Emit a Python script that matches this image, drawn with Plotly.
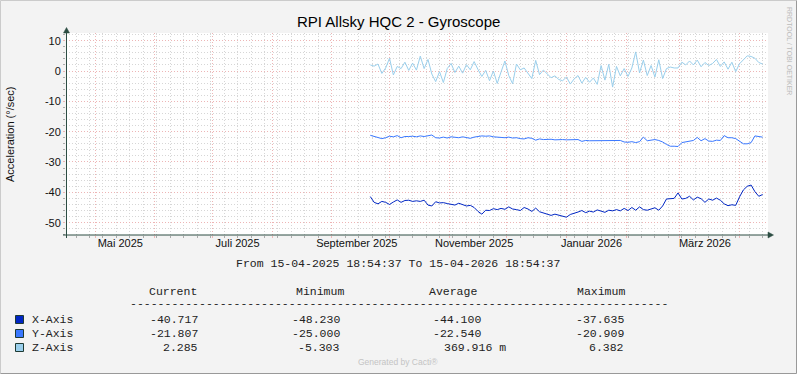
import pandas as pd
import plotly.graph_objects as go

# ---------------- data ----------------
title = "RPI Allsky HQC 2 - Gyroscope"
y_title = "Acceleration (°/sec)"
range_start = "2025-04-15 18:54:37"
range_end = "2026-04-15 18:54:37"
dates = pd.date_range(start="2025-09-21", periods=103, freq="2D")

x_axis = [-41.4, -43.3, -43.8, -43.0, -43.3, -44.0, -43.2, -42.5, -43.3, -42.7,
          -42.6, -43.0, -42.8, -43.0, -42.6, -44.2, -44.5, -43.1, -43.5, -43.4,
          -43.7, -43.9, -44.2, -43.6, -44.0, -44.5, -44.3, -45.0, -46.3, -47.2,
          -45.9, -46.0, -45.4, -45.7, -45.3, -45.6, -44.8, -45.5, -45.7, -46.0,
          -45.0, -45.5, -46.3, -45.2, -46.4, -46.8, -47.0, -47.6, -47.2, -47.5,
          -47.8, -48.2, -47.3, -47.0, -46.5, -46.0, -46.7, -46.2, -46.5, -45.8,
          -46.3, -46.6, -45.9, -46.1, -45.7, -46.1, -45.3, -46.0, -45.0, -45.9,
          -44.8, -45.7, -45.9, -45.6, -45.1, -45.9, -44.5, -42.2, -42.2, -42.0,
          -40.2, -42.2, -42.0, -41.3, -42.5, -41.6, -42.1, -43.3, -42.2, -42.6,
          -41.9, -42.6, -43.8, -44.4, -44.1, -44.3, -41.5, -39.2, -38.0, -37.6,
          -39.8, -41.3, -40.717]

y_axis = [-21.2, -21.5, -21.9, -22.3, -22.0, -21.5, -21.7, -21.3, -22.0, -21.6,
          -21.6, -21.5, -21.7, -21.4, -21.6, -21.4, -21.1, -22.0, -22.1, -21.8,
          -22.1, -21.7, -21.9, -22.0, -21.7, -22.0, -22.2, -21.8, -21.6, -21.4,
          -21.5, -21.4, -21.7, -21.7, -21.9, -22.0, -21.8, -22.1, -22.0, -22.3,
          -22.4, -22.0, -22.2, -22.8, -22.4, -22.6, -22.5, -22.5, -22.7, -22.6,
          -22.6, -22.7, -22.6, -22.5, -22.6, -23.2, -22.9, -23.0, -23.0, -23.0,
          -22.9, -23.0, -23.0, -22.9, -23.1, -22.9, -23.4, -23.5, -23.3, -23.6,
          -23.3, -21.8, -23.0, -22.7, -22.6, -22.9, -23.4, -24.2, -24.8, -24.8,
          -24.9, -23.6, -23.3, -23.0, -22.9, -21.9, -23.0, -22.3, -23.1, -23.2,
          -22.8, -22.9, -21.3, -22.0, -22.0, -22.3, -23.2, -24.0, -24.0, -23.6,
          -21.4, -21.6, -21.807]

z_axis = [2.0, 1.6, 2.3, -0.8, 1.0, 4.2, -1.3, 1.5, 0.8, 2.9,
          0.2, 2.6, 0.3, 4.9, 0.8, 3.8, -1.0, -3.5, -0.2, -3.8,
          0.8, 2.5, -0.5, 1.6, -0.7, 2.1, 0.4, 3.1, 0.5, -1.8,
          0.2, -3.2, 0.0, -4.1, -0.3, 3.3, -1.5, -4.2, 2.3, 0.4,
          1.0, -0.6, -2.5, 3.5, -1.2, 0.3, -1.0, -2.2, -1.6, -2.8,
          -3.2, -2.0, -4.3, -2.6, -1.5, -4.0, -2.1, -3.7, -2.3, -4.4,
          1.8, -3.0, 2.2, -5.3, 1.5, -1.6, 0.8, -1.8, 1.0, 6.3,
          -0.6, 3.6, -1.5, 1.8, -2.0, 3.7, -2.5, 0.8, 1.3, 1.0,
          1.0, 2.9, 2.0, 3.3, 2.0, 3.6, 1.4, 2.8, 1.8, 2.5,
          3.8, 1.5, 3.0, 0.6, 2.9, -0.2, 2.4, 3.8, 5.0, 4.8,
          4.2, 2.8, 2.285]

series_names = ["X-Axis", "Y-Axis", "Z-Axis"]
series_colors = ["#0026C4", "#3A78FF", "#9ACFEC"]
stat_current = ["-40.717", "-21.807", "2.285"]
stat_minimum = ["-48.230", "-25.000", "-5.303"]
stat_average = ["-44.100", "-22.540", "369.916 m"]
stat_maximum = ["-37.635", "-20.909", "6.382"]
stat_headers = ["Current", "Minimum", "Average", "Maximum"]

label_dates = ["2025-05-14", "2025-07-14", "2025-09-14", "2025-11-14", "2026-01-14", "2026-03-14"]
label_texts = ["Mai 2025", "Juli 2025", "September 2025", "November 2025", "Januar 2026", "März 2026"]
y_ticks = [10, 0, -10, -20, -30, -40, -50]
y_range = [-54.07, 12.53]

# ---------------- layout helpers ----------------
W, H = 797, 374
L, R, T, B = 66, 29, 33, 139
PW, PH = W - L - R, H - T - B
def px(x):
    return (x - L) / PW
def py(y):
    return (H - B - y) / PH

AXC = "#2C4D43"
SANS = "Liberation Sans, Arial, sans-serif"
MONO = "Liberation Mono, Courier New, monospace"
RED = "#EDB5B5"
GRAY = "#D6D6D6"

fig = go.Figure()
for name, vals, col in zip(series_names, [x_axis, y_axis, z_axis], series_colors):
    fig.add_trace(go.Scatter(x=dates, y=vals, mode="lines", name=name,
                             line=dict(color=col, width=1), showlegend=False,
                             xaxis="x", yaxis="y"))
# invisible trace for label axis
fig.add_trace(go.Scatter(x=[range_start, range_end], y=[None, None], mode="lines",
                         xaxis="x2", yaxis="y", showlegend=False, hoverinfo="skip"))

fig.update_layout(
    width=W, height=H,
    margin=dict(l=L, r=R, t=T, b=B),
    paper_bgcolor="#F3F3F3", plot_bgcolor="#FFFFFF",
    xaxis=dict(range=[range_start, range_end], type="date",
               tick0="2025-05-01", dtick="M1", showticklabels=False,
               showgrid=True, gridcolor=RED, griddash="1px,2px", gridwidth=1,
               ticks="outside", ticklen=2, tickcolor=RED,
               minor=dict(tick0="2025-04-21", dtick=7 * 86400000, showgrid=True,
                          gridcolor=GRAY, griddash="1px,2px",
                          ticks="outside", ticklen=2, tickcolor="#AAAAAA"),
               showline=False, zeroline=False, fixedrange=True),
    xaxis2=dict(range=[range_start, range_end], type="date", overlaying="x",
                anchor="y", side="bottom", tickvals=label_dates, ticktext=label_texts,
                showgrid=False, ticks="", showline=False, zeroline=False,
                tickfont=dict(family=SANS, size=11, color="#111111")),
    yaxis=dict(range=y_range, tickvals=y_ticks, ticktext=[str(v) for v in y_ticks],
               showgrid=True, gridcolor=RED, griddash="1px,2px",
               minor=dict(dtick=2, tick0=0, showgrid=True, gridcolor=GRAY,
                          griddash="1px,2px", ticks="outside", ticklen=2, tickcolor="#AAAAAA"),
               ticks="outside", ticklen=2, tickcolor=RED,
               tickfont=dict(family=SANS, size=11, color="#111111"),
               showline=False, zeroline=False, fixedrange=True),
    showlegend=False,
)

shapes = []
# frame
shapes.append(dict(type="line", xref="paper", yref="paper", x0=px(0.5), x1=px(W - 0.5), y0=py(0.5), y1=py(0.5), line=dict(color="#CBCBCB", width=1)))
shapes.append(dict(type="line", xref="paper", yref="paper", x0=px(0.5), x1=px(0.5), y0=py(0.5), y1=py(H - 0.5), line=dict(color="#CBCBCB", width=1)))
shapes.append(dict(type="line", xref="paper", yref="paper", x0=px(0.5), x1=px(W - 0.5), y0=py(H - 0.5), y1=py(H - 0.5), line=dict(color="#999999", width=1)))
shapes.append(dict(type="line", xref="paper", yref="paper", x0=px(W - 0.5), x1=px(W - 0.5), y0=py(0.5), y1=py(H - 0.5), line=dict(color="#999999", width=1)))
# axes
shapes.append(dict(type="line", xref="paper", yref="paper", x0=px(66.5), x1=px(66.5), y0=py(238), y1=py(30), line=dict(color=AXC, width=1)))
shapes.append(dict(type="line", xref="paper", yref="paper", x0=px(63), x1=px(769), y0=py(235), y1=py(235), line=dict(color=AXC, width=1)))
shapes.append(dict(type="path", xref="paper", yref="paper",
                   path=f"M {px(63.5)},{py(33)} L {px(69.5)},{py(33)} L {px(66.5)},{py(27.5)} Z",
                   fillcolor=AXC, line=dict(color=AXC, width=0.5)))
shapes.append(dict(type="path", xref="paper", yref="paper",
                   path=f"M {px(768)},{py(232)} L {px(768)},{py(238)} L {px(773.5)},{py(235)} Z",
                   fillcolor=AXC, line=dict(color=AXC, width=0.5)))
# legend swatches
for i, col in enumerate(series_colors):
    top = 315.5 + 14 * i
    shapes.append(dict(type="rect", xref="paper", yref="paper",
                       x0=px(15.5), x1=px(23.5), y0=py(top), y1=py(top + 8),
                       fillcolor=col, line=dict(color="#1E3A33", width=1)))
fig.update_layout(shapes=shapes)

ann = []
def text(x, y, s, size=11, family=SANS, color="#111111", xanchor="center", angle=0):
    ann.append(dict(xref="paper", yref="paper", x=px(x), y=py(y), text=s, showarrow=False,
                    xanchor=xanchor, yanchor="middle", textangle=angle,
                    font=dict(family=family, size=size, color=color)))

text(398, 22, title, size=15, color="#000000")
text(10, 134, y_title, size=11, angle=-90)
text(789, 51, "RRDTOOL / TOBI OETIKER", size=7, color="#BBBBBB", angle=90)
text(398, 263, "From 15-04-2025 18:54:37 To 15-04-2026 18:54:37".replace(" ", "\u00a0"), size=11.5, family=MONO, color="#222222")
head_x = [173, 320, 453, 600.5]
for hx, hs in zip(head_x, stat_headers):
    text(hx, 291, hs, size=11.5, family=MONO, color="#222222")
text(128, 303, "-" * 78, size=11.5, family=MONO, color="#222222", xanchor="left")
col_right = [200, 342, 483, 626]
for i, name in enumerate(series_names):
    yy = 319.5 + 14 * i
    text(30, yy, name, size=11.5, family=MONO, color="#222222", xanchor="left")
    for cx, arr in zip(col_right, [stat_current, stat_minimum, stat_average, stat_maximum]):
        s = arr[i]
        if s.endswith(" m"):
            text(cx - 41.3, yy, s.replace(" ", "\u00a0"), size=11.5, family=MONO, color="#222222", xanchor="left")
        else:
            text(cx, yy, s, size=11.5, family=MONO, color="#222222", xanchor="right")
text(398, 362, "Generated by Cacti®", size=8.5, color="#C4C4C4")
fig.update_layout(annotations=ann)

fig.write_html("out.html", config={"displayModeBar": False},
               post_script="document.body.style.margin='0';document.body.style.overflow='hidden';")
